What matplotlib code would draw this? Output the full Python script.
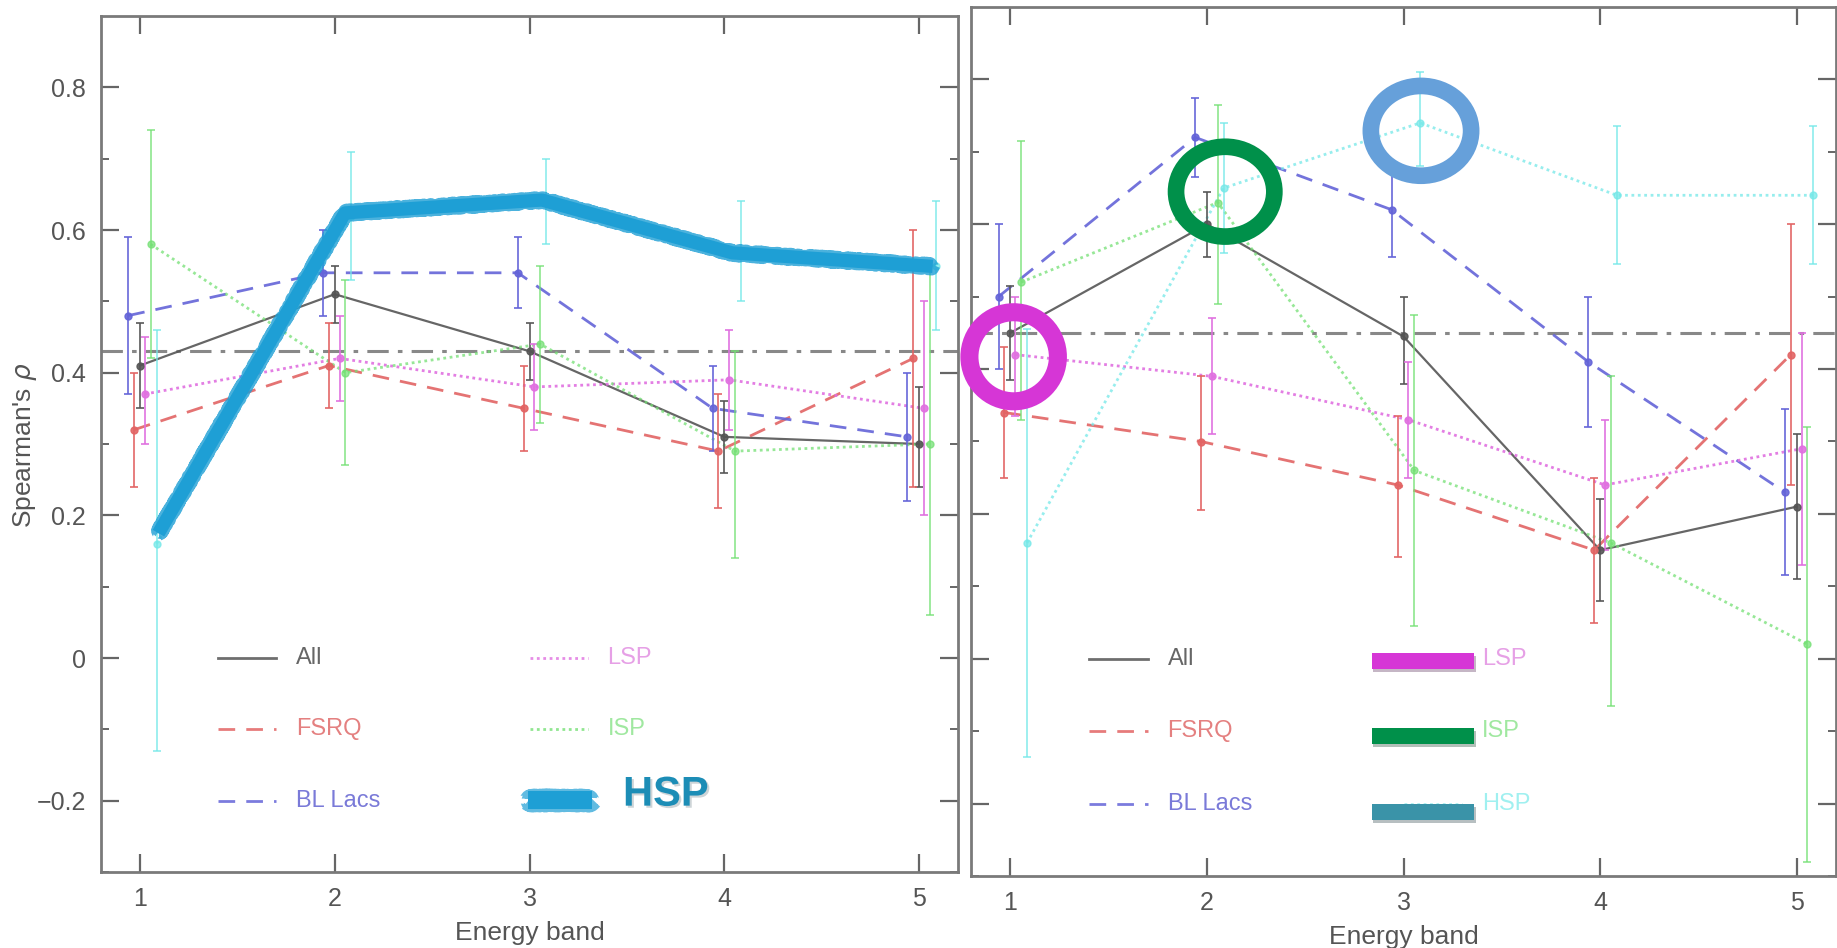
import numpy as np
import matplotlib.pyplot as plt
from matplotlib.patches import Ellipse, Rectangle
import matplotlib.patheffects as pe

plt.rcParams['font.family'] = ['Liberation Sans', 'DejaVu Sans']

bands = np.array([1, 2, 3, 4, 5])
names = ["All", "FSRQ", "BL Lacs", "LSP", "ISP", "HSP"]

# left panel: value, lower and upper end of error bar
left_rho = {
    "All":     [0.41, 0.51, 0.43, 0.31, 0.30],
    "FSRQ":    [0.32, 0.41, 0.35, 0.29, 0.42],
    "BL Lacs": [0.48, 0.54, 0.54, 0.35, 0.31],
    "LSP":     [0.37, 0.42, 0.38, 0.39, 0.35],
    "ISP":     [0.58, 0.40, 0.44, 0.29, 0.30],
    "HSP":     [0.16, 0.62, 0.64, 0.57, 0.55],
}
left_lo = {
    "All":     [0.35, 0.47, 0.39, 0.26, 0.24],
    "FSRQ":    [0.24, 0.35, 0.29, 0.21, 0.24],
    "BL Lacs": [0.37, 0.48, 0.49, 0.29, 0.22],
    "LSP":     [0.30, 0.36, 0.32, 0.32, 0.20],
    "ISP":     [0.42, 0.27, 0.33, 0.14, 0.06],
    "HSP":     [-0.13, 0.53, 0.58, 0.50, 0.46],
}
left_hi = {
    "All":     [0.47, 0.55, 0.47, 0.36, 0.38],
    "FSRQ":    [0.40, 0.47, 0.41, 0.37, 0.60],
    "BL Lacs": [0.59, 0.60, 0.59, 0.41, 0.40],
    "LSP":     [0.45, 0.48, 0.44, 0.46, 0.50],
    "ISP":     [0.74, 0.53, 0.55, 0.43, 0.55],
    "HSP":     [0.46, 0.71, 0.70, 0.64, 0.64],
}
left_ref = 0.43

# right panel
right_rho = {
    "All":     [0.45, 0.60, 0.445, 0.15, 0.21],
    "FSRQ":    [0.34, 0.30, 0.24, 0.15, 0.42],
    "BL Lacs": [0.50, 0.72, 0.62, 0.41, 0.23],
    "LSP":     [0.42, 0.39, 0.33, 0.24, 0.29],
    "ISP":     [0.52, 0.63, 0.26, 0.16, 0.02],
    "HSP":     [0.16, 0.65, 0.74, 0.64, 0.64],
}
right_lo = {
    "All":     [0.385, 0.555, 0.38, 0.08, 0.11],
    "FSRQ":    [0.25, 0.205, 0.14, 0.05, 0.24],
    "BL Lacs": [0.40, 0.665, 0.555, 0.32, 0.115],
    "LSP":     [0.335, 0.31, 0.25, 0.15, 0.13],
    "ISP":     [0.33, 0.49, 0.045, -0.065, -0.28],
    "HSP":     [-0.135, 0.56, 0.68, 0.545, 0.545],
}
right_hi = {
    "All":     [0.515, 0.645, 0.50, 0.22, 0.31],
    "FSRQ":    [0.43, 0.39, 0.335, 0.25, 0.60],
    "BL Lacs": [0.60, 0.775, 0.68, 0.50, 0.345],
    "LSP":     [0.50, 0.47, 0.41, 0.33, 0.45],
    "ISP":     [0.715, 0.765, 0.475, 0.39, 0.32],
    "HSP":     [0.455, 0.74, 0.81, 0.735, 0.735],
}
right_ref = 0.45

# hand drawn highlight of HSP on the left panel
trace_x = [1.095, 2.053, 3.064, 4.04, 5.07]
trace_y = [0.175, 0.624, 0.642, 0.568, 0.549]

# annotation circles on the right panel (band, rho, width, height, colour, lw)
circle_x = [1.017, 2.093, 3.089]
circle_y = [0.417, 0.645, 0.729]
circle_w = [0.45, 0.50, 0.51]
circle_h = [0.123, 0.124, 0.124]
circle_c = ["#D636D6", "#00904A", "#66A0DA"]
circle_lw = [13, 12, 12]

# coloured bars over the right legend
bar_y = [-0.003, -0.107, -0.212]
bar_c = ["#D636D6", "#00904A", "#3A93A8"]

offsets = {"All": 0.0, "FSRQ": -0.03, "BL Lacs": -0.06, "LSP": 0.025, "ISP": 0.055, "HSP": 0.085}
colors = {"All": "#555555", "FSRQ": "#E26464", "BL Lacs": "#6464D8",
          "LSP": "#E070E0", "ISP": "#74E074", "HSP": "#74E8E8"}
styles = {"All": "-", "FSRQ": (0, (6, 4)), "BL Lacs": (0, (6, 4)),
          "LSP": (0, (1, 1.3)), "ISP": (0, (1, 1.3)), "HSP": (0, (1, 1.3))}
text_c = {"All": "#666666", "FSRQ": "#E48080", "BL Lacs": "#7A7AD8",
          "LSP": "#E6A0E6", "ISP": "#A0E8A0", "HSP": "#A0F0F0"}

fig = plt.figure(figsize=(18.37, 9.48), dpi=100)
axL = fig.add_axes([101 / 1837, 1 - 872 / 948, 857 / 1837, 856 / 948])
axR = fig.add_axes([971 / 1837, 1 - 876 / 948, 865 / 1837, 869 / 948])


def draw_panel(ax, rho, lo, hi, ref):
    for n in names:
        x = bands + offsets[n]
        y = np.array(rho[n])
        err = [y - np.array(lo[n]), np.array(hi[n]) - y]
        alpha = 0.75 if n in ("ISP", "HSP") else 0.9
        ax.plot(x, y, linestyle=styles[n], color=colors[n], lw=2 if n != "All" else 1.6,
                alpha=alpha, zorder=3)
        ax.errorbar(x, y, yerr=err, fmt="o", ms=5, color=colors[n], ecolor=colors[n],
                    elinewidth=1.3, capsize=3, capthick=1.3, alpha=alpha, zorder=4)
    ax.axhline(ref, color="#888888", lw=2.2, linestyle=(0, (7, 3, 1.5, 3)), zorder=2)
    ax.set_xlim(0.8, 5.2)
    ax.set_ylim(-0.3, 0.9)
    ax.set_xticks(bands)
    ax.set_yticks([-0.2, 0, 0.2, 0.4, 0.6, 0.8])
    ax.set_yticks(np.arange(-0.3, 0.85, 0.1), minor=True)
    ax.tick_params(direction="in", top=True, right=True, length=13, width=1.6,
                   color="#666666", labelcolor="#555555", labelsize=18, pad=11)
    ax.tick_params(which="minor", direction="in", left=True, right=True, length=6,
                   width=1.4, color="#666666")
    for s in ax.spines.values():
        s.set_color("#7a7a7a")
        s.set_linewidth(2)
    ax.set_xlabel("Energy band", fontsize=19, color="#555555", labelpad=7)
    # legend drawn by hand
    rows = [0.0, -0.1, -0.2]
    for n, ry in zip(names[:3], rows):
        ax.plot([1.40, 1.70], [ry, ry], linestyle=styles[n], color=colors[n], lw=2, alpha=0.85)
        ax.text(1.80, ry, n, color=text_c[n], fontsize=17, va="center")
    return rows


rowsL = draw_panel(axL, left_rho, left_lo, left_hi, left_ref)
for n, ry in zip(names[3:5], rowsL[:2]):
    axL.plot([3.0, 3.30], [ry, ry], linestyle=styles[n], color=colors[n], lw=2, alpha=0.8)
    axL.text(3.40, ry, n, color=text_c[n], fontsize=17, va="center")
axL.set_yticklabels(["\u22120.2", "0", "0.2", "0.4", "0.6", "0.8"])
fig.text(25 / 1837, 1 - 445 / 948, "Spearman's $\\rho$", rotation=90, fontsize=19,
         color="#555555", ha="center", va="center")

# rough highlight line over HSP: solid core plus a noisy edge
axL.plot(trace_x, trace_y, color="#1E9FD5", lw=9.5, solid_capstyle="butt",
         solid_joinstyle="round", zorder=8)
hl, = axL.plot(trace_x, trace_y, color="#1E9FD5", lw=11, solid_capstyle="butt",
               solid_joinstyle="round", alpha=0.8, zorder=8)
hl.set_sketch_params(scale=1.6, length=1.2, randomness=2)
axL.plot([2.99, 3.32], [-0.199, -0.199], color="#1E9FD5", lw=13, solid_capstyle="butt", zorder=8)
sw, = axL.plot([2.99, 3.32], [-0.199, -0.199], color="#1E9FD5", lw=15, alpha=0.7,
               solid_capstyle="butt", zorder=8)
sw.set_sketch_params(scale=1.6, length=1.2, randomness=2)
axL.text(3.48, -0.207, "HSP", fontsize=30, fontweight="bold", color="#1C8DB6",
         va="baseline", zorder=9,
         path_effects=[pe.SimplePatchShadow(offset=(1.5, -1.5), alpha=0.2), pe.Normal()])

rowsR = draw_panel(axR, right_rho, right_lo, right_hi, right_ref)
axR.set_yticklabels([])
for n, ry in zip(names[3:], rowsR):
    axR.plot([3.0, 3.30], [ry, ry], linestyle=styles[n], color=colors[n], lw=2, alpha=0.6)
    axR.text(3.40, ry, n, color=text_c[n], fontsize=17, va="center")
for by, bc in zip(bar_y, bar_c):
    axR.add_patch(Rectangle((2.84, by - 0.011), 0.52, 0.022, facecolor=bc, edgecolor="none",
                            zorder=9, path_effects=[pe.SimplePatchShadow(offset=(1, -2), alpha=0.3),
                                                    pe.Normal()]))
for cx, cy, cw, ch, cc, clw in zip(circle_x, circle_y, circle_w, circle_h, circle_c, circle_lw):
    axR.add_patch(Ellipse((cx, cy), cw, ch, fill=False, edgecolor=cc, lw=clw,
                          clip_on=False, zorder=10))

fig.savefig("out.png", dpi=100)
